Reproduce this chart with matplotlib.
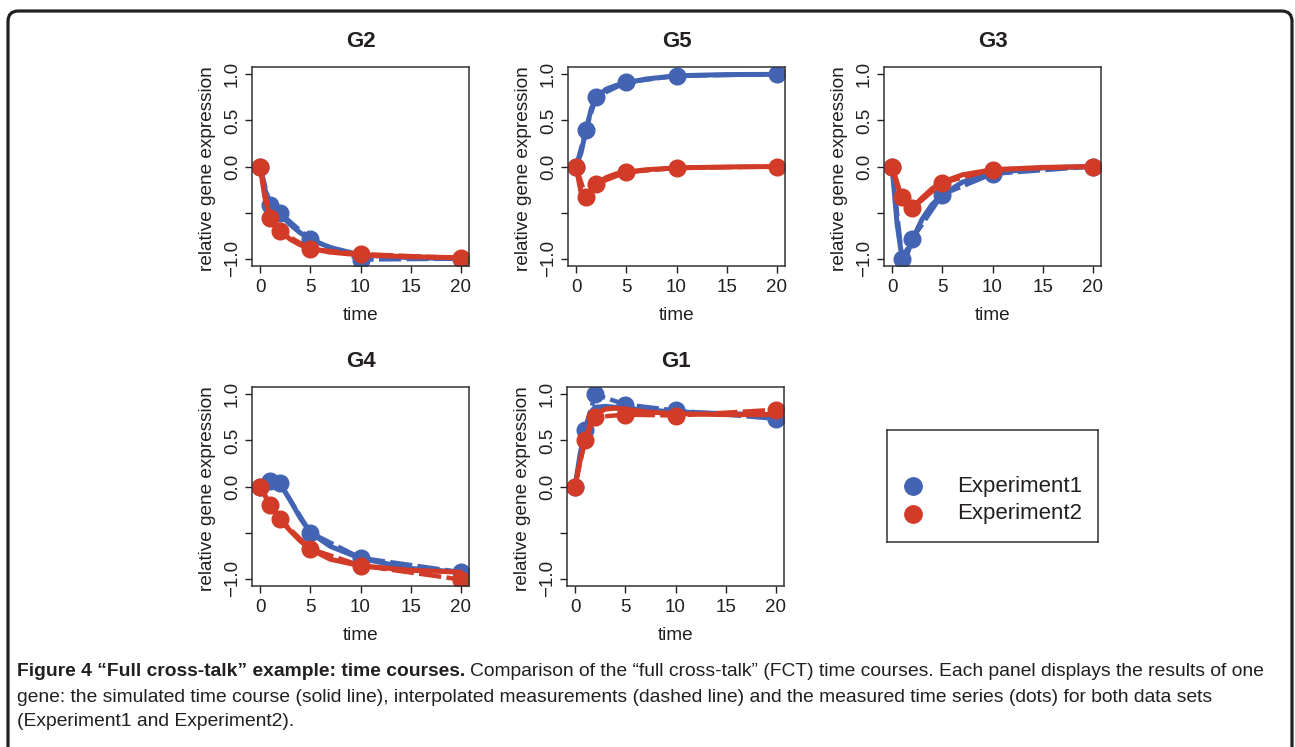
import matplotlib
matplotlib.use("Agg")
import matplotlib.pyplot as plt
from matplotlib.patches import FancyBboxPatch

plt.rcParams['font.family'] = ['Liberation Sans', 'DejaVu Sans']

# measured time points and values
times = [0, 1, 2, 5, 10, 20]
genes = ['G2', 'G5', 'G3', 'G4', 'G1']

exp1 = {
    'G2': [0, -0.42, -0.505, -0.79, -1.01, -1.0],
    'G5': [0, 0.40, 0.756, 0.913, 0.985, 1.0],
    'G3': [0, -1.0, -0.79, -0.305, -0.08, 0],
    'G4': [0, 0.055, 0.033, -0.50, -0.775, -0.93],
    'G1': [0, 0.615, 1.0, 0.89, 0.825, 0.735],
}
exp2 = {
    'G2': [0, -0.56, -0.705, -0.895, -0.95, -0.995],
    'G5': [0, -0.335, -0.19, -0.062, -0.015, 0],
    'G3': [0, -0.335, -0.455, -0.178, -0.033, 0],
    'G4': [0, -0.20, -0.356, -0.676, -0.858, -1.01],
    'G1': [0, 0.505, 0.753, 0.78, 0.77, 0.833],
}

# simulated time courses, read at these times
sim_t = [0, 0.5, 1, 1.5, 2, 3, 4, 5, 7, 10, 15, 20]
sim1 = {
    'G2': [0, -0.25, -0.42, -0.48, -0.52, -0.63, -0.72, -0.79, -0.88, -0.96, -0.99, -1.0],
    'G5': [0, 0.15, 0.40, 0.62, 0.75, 0.84, 0.88, 0.91, 0.95, 0.985, 0.998, 1.0],
    'G3': [0, -0.62, -1.0, -0.95, -0.80, -0.57, -0.41, -0.31, -0.17, -0.07, -0.015, 0],
    'G4': [0, 0.04, 0.05, 0.05, 0.03, -0.15, -0.34, -0.50, -0.65, -0.78, -0.89, -0.93],
    'G1': [0, 0.35, 0.62, 0.80, 0.86, 0.87, 0.86, 0.85, 0.83, 0.81, 0.79, 0.78],
}
sim2 = {
    'G2': [0, -0.35, -0.55, -0.64, -0.70, -0.79, -0.85, -0.89, -0.93, -0.96, -0.98, -0.99],
    'G5': [0, -0.28, -0.33, -0.26, -0.19, -0.12, -0.08, -0.06, -0.035, -0.015, -0.005, 0],
    'G3': [0, -0.20, -0.33, -0.42, -0.45, -0.34, -0.24, -0.17, -0.09, -0.035, -0.01, 0],
    'G4': [0, -0.10, -0.20, -0.28, -0.36, -0.48, -0.59, -0.68, -0.79, -0.86, -0.91, -0.93],
    'G1': [0, 0.28, 0.50, 0.68, 0.78, 0.84, 0.85, 0.84, 0.81, 0.79, 0.78, 0.78],
}

legend_labels = ['Experiment1', 'Experiment2']
blue = '#4363b3'
red = '#d13b27'
ink = '#231f20'

W, H = 1295, 747
fig = plt.figure(figsize=(W / 100, H / 100), dpi=100)

# outer rounded frame
frame = FancyBboxPatch((8 / W, 1 - 760 / H), (1292 - 8) / W, (760 - 11) / H,
                       boxstyle='round,pad=0,rounding_size=0.008',
                       transform=fig.transFigure, fill=False, lw=2.3,
                       edgecolor=ink, clip_on=False, mutation_aspect=W / H)
fig.patches.append(frame)

# panel boxes in pixels: left, top
boxes = {'G2': (252, 67), 'G5': (568, 67), 'G3': (884, 67),
         'G4': (252, 387), 'G1': (567, 387)}
aw, ah = 217, 199

for g in genes:
    x0, y0 = boxes[g]
    ax = fig.add_axes([x0 / W, 1 - (y0 + ah) / H, aw / W, ah / H])
    for tt, yy, ss, col in [(times, exp1[g], sim1[g], blue),
                            (times, exp2[g], sim2[g], red)]:
        ax.plot(tt, yy, color=col, lw=3.2, ls=(0, (5, 1.2)))
        ax.plot(sim_t, ss, color=col, lw=3.6, solid_capstyle='round')
        ax.plot(tt, yy, 'o', color=col, ms=12)
    ax.set_xlim(-0.8, 20.8)
    ax.set_ylim(-1.08, 1.08)
    ax.set_xticks([0, 5, 10, 15, 20])
    ax.set_yticks([-1, -0.5, 0, 0.5, 1])
    ax.set_yticklabels(['\u22121.0', '', '0.0', '0.5', '1.0'], rotation=90, va='center')
    ax.tick_params(direction='out', length=5, width=1, color=ink,
                   labelsize=13.5, labelcolor=ink)
    ax.tick_params(axis='x', pad=4)
    ax.tick_params(axis='y', pad=3)
    for s in ax.spines.values():
        s.set_color('#333333')
        s.set_linewidth(1.1)
    ax.set_xlabel('time', fontsize=13.7, color=ink)
    ax.xaxis.set_label_coords(0.5, -0.247)
    ax.xaxis.label.set_va('center')
    ax.set_ylabel('relative gene expression', fontsize=13.7, color=ink)
    ax.yaxis.set_label_coords(-0.203, 0.49)
    ax.yaxis.label.set_va('center')
    ax.text(0.5, 1.126, g, transform=ax.transAxes, ha='center', va='center',
            fontsize=16, fontweight='bold', color=ink)

# legend box
lax = fig.add_axes([887 / W, 1 - 542 / H, (1098 - 887) / W, (542 - 430) / H])
lax.set_xlim(0, 1)
lax.set_ylim(0, 1)
lax.set_xticks([])
lax.set_yticks([])
for s in lax.spines.values():
    s.set_color('#333333')
    s.set_linewidth(1.1)
for lab, col, yy in zip(legend_labels, [blue, red], [0.50, 0.25]):
    lax.plot([0.123], [yy], 'o', color=col, ms=12.5)
    lax.text(0.33, yy, lab, va='center', ha='left', fontsize=16, color=ink)

# caption
cap_bold = 'Figure 4 \u201cFull cross-talk\u201d example: time courses.'
cap_rest = ('Comparison of the \u201cfull cross-talk\u201d (FCT) time courses. '
            'Each panel displays the results of one')
cap_2 = ('gene: the simulated time course (solid line), interpolated measurements '
         '(dashed line) and the measured time series (dots) for both data sets')
cap_3 = '(Experiment1 and Experiment2).'
cs = 13.85

t1 = fig.text(17 / W, 1 - 672 / H, cap_bold, fontsize=cs, fontweight='bold',
              va='center', ha='left', color=ink)
fig.canvas.draw()
bb = t1.get_window_extent(fig.canvas.get_renderer())
fig.text((bb.x1 + 5) / W, 1 - 672 / H, cap_rest, fontsize=cs,
         va='center', ha='left', color=ink)
fig.text(17 / W, 1 - 697 / H, cap_2, fontsize=cs,
         va='center', ha='left', color=ink)
fig.text(17 / W, 1 - 722 / H, cap_3, fontsize=cs,
         va='center', ha='left', color=ink)

fig.savefig('out.png', dpi=100)
